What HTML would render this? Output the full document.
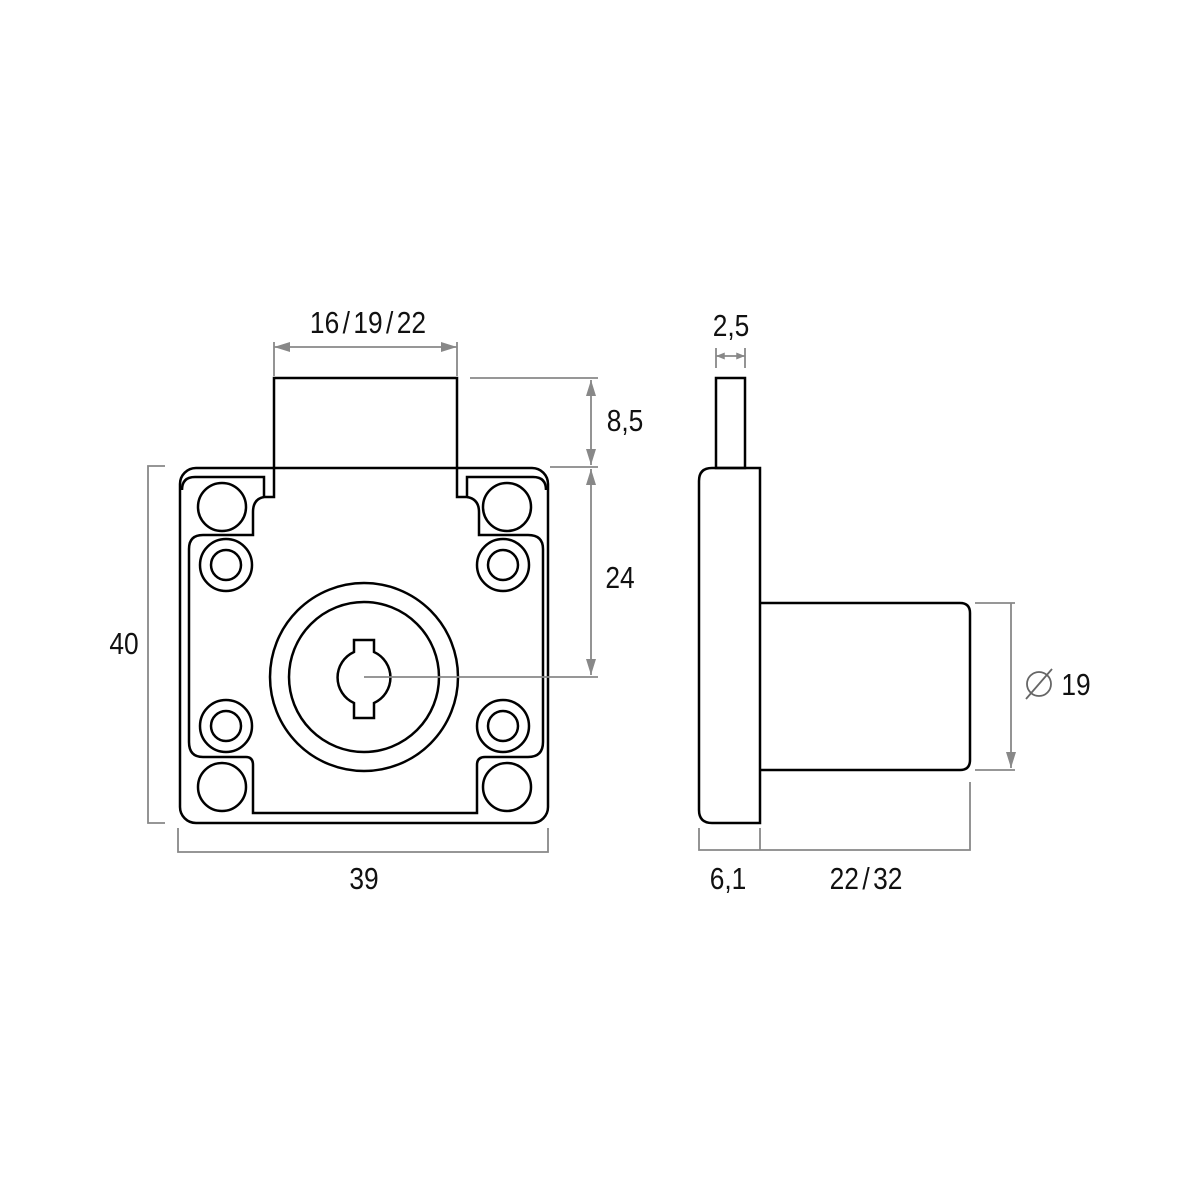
<!DOCTYPE html>
<html><head><style>body{margin:0;background:#fff}svg{display:block}</style></head><body>
<svg width="1200" height="1200" viewBox="0 0 1200 1200" xmlns="http://www.w3.org/2000/svg">
<defs>
<marker id="a" viewBox="0 0 16 12" refX="16" refY="6" markerWidth="16" markerHeight="12" orient="auto-start-reverse" markerUnits="userSpaceOnUse"><path d="M0,1 L16,6 L0,11 z" fill="#888"/></marker>
<marker id="s" viewBox="0 0 10 8" refX="10" refY="4" markerWidth="9" markerHeight="7" orient="auto-start-reverse" markerUnits="userSpaceOnUse"><path d="M0,0 L10,4 L0,8 z" fill="#888"/></marker>
</defs>
<g fill="none" stroke="#000" stroke-width="2.5">
<rect x="180" y="468" width="368" height="355" rx="16"/>
<path d="M274,468 L274,378 L457,378 L457,468"/>
<path d="M274,468 L274,497 L264,497 L264,477 L195,477 Q182,477 182,490"/>
<path d="M457,468 L457,497 L467,497 L467,477 L533,477 Q546,477 546,490"/>
<path d="M264,497 Q253,499 253,512 L253,535 L203,535 Q189,535 189,549 L189,742 Q189,757 203,757 L246,757 Q253,757 253,765 L253,813 L477,813 L477,765 Q477,757 485,757 L528,757 Q543,757 543,742 L543,549 Q543,535 528,535 L479,535 L479,512 Q479,499 467,497"/>
<circle cx="222" cy="507" r="24"/><circle cx="507" cy="507" r="24"/>
<circle cx="222" cy="787" r="24"/><circle cx="507" cy="787" r="24"/>
<circle cx="226" cy="565" r="26"/><circle cx="226" cy="565" r="15"/>
<circle cx="503" cy="565" r="26"/><circle cx="503" cy="565" r="15"/>
<circle cx="226" cy="726" r="26"/><circle cx="226" cy="726" r="15"/>
<circle cx="503" cy="726" r="26"/><circle cx="503" cy="726" r="15"/>
<circle cx="364" cy="677" r="94"/><circle cx="364" cy="677" r="75"/>
<path d="M354,652 L354,640 L374,640 L374,652 A28,28 0 0 1 374,703 L374,718 L354,718 L354,703 A28,28 0 0 1 354,652 Z"/>
<rect x="716" y="378" width="29" height="90"/>
<path d="M760,468 L712,468 Q699,468 699,481 L699,810 Q699,823 712,823 L760,823 Z"/>
<path d="M760,603 L960,603 Q970,603 970,613 L970,760 Q970,770 960,770 L760,770"/>
</g>
<g fill="none" stroke="#888" stroke-width="1.8">
<line x1="274" y1="347" x2="457" y2="347" marker-start="url(#a)" marker-end="url(#a)"/>
<line x1="274" y1="342" x2="274" y2="376"/><line x1="457" y1="342" x2="457" y2="376"/>
<line x1="470" y1="378" x2="598" y2="378"/><line x1="550" y1="467" x2="598" y2="467"/>
<line x1="591" y1="380" x2="591" y2="465" marker-start="url(#a)" marker-end="url(#a)"/>
<line x1="591" y1="469" x2="591" y2="675" marker-start="url(#a)" marker-end="url(#a)"/>
<line x1="364" y1="677" x2="598" y2="677"/>
<path d="M165,466 L148,466 L148,823 L165,823"/>
<path d="M178,828 L178,852 L548,852 L548,828"/>
<line x1="716" y1="356" x2="745" y2="356" marker-start="url(#s)" marker-end="url(#s)"/>
<line x1="716" y1="348" x2="716" y2="368"/><line x1="745" y1="348" x2="745" y2="368"/>
<line x1="975" y1="603" x2="1015" y2="603"/><line x1="975" y1="770" x2="1015" y2="770"/>
<line x1="1011" y1="603" x2="1011" y2="768" marker-end="url(#a)"/>
<path d="M699,828 L699,850 L970,850 L970,782"/><line x1="760" y1="828" x2="760" y2="850"/>
<circle cx="1039" cy="684" r="12" stroke="#666"/><line x1="1026" y1="699" x2="1052" y2="669" stroke="#666"/>
</g>
<g font-family="Liberation Sans, sans-serif" font-size="31" fill="#111" text-anchor="middle">
<text x="368" y="333" transform="translate(368 0) scale(0.85 1) translate(-368 0)">16<tspan dx="4">/</tspan><tspan dx="4">19</tspan><tspan dx="4">/</tspan><tspan dx="4">22</tspan></text>
<text x="625" y="431" transform="translate(625 0) scale(0.85 1) translate(-625 0)">8,5</text>
<text x="620" y="588" transform="translate(620 0) scale(0.85 1) translate(-620 0)">24</text>
<text x="124" y="654" transform="translate(124 0) scale(0.85 1) translate(-124 0)">40</text>
<text x="364" y="889" transform="translate(364 0) scale(0.85 1) translate(-364 0)">39</text>
<text x="731" y="336" transform="translate(731 0) scale(0.85 1) translate(-731 0)">2,5</text>
<text x="728" y="889" transform="translate(728 0) scale(0.85 1) translate(-728 0)">6,1</text>
<text x="866" y="889" transform="translate(866 0) scale(0.85 1) translate(-866 0)">22<tspan dx="4">/</tspan><tspan dx="4">32</tspan></text>
<text x="1076" y="695" transform="translate(1076 0) scale(0.85 1) translate(-1076 0)">19</text>
</g>
</svg>
</body></html>
